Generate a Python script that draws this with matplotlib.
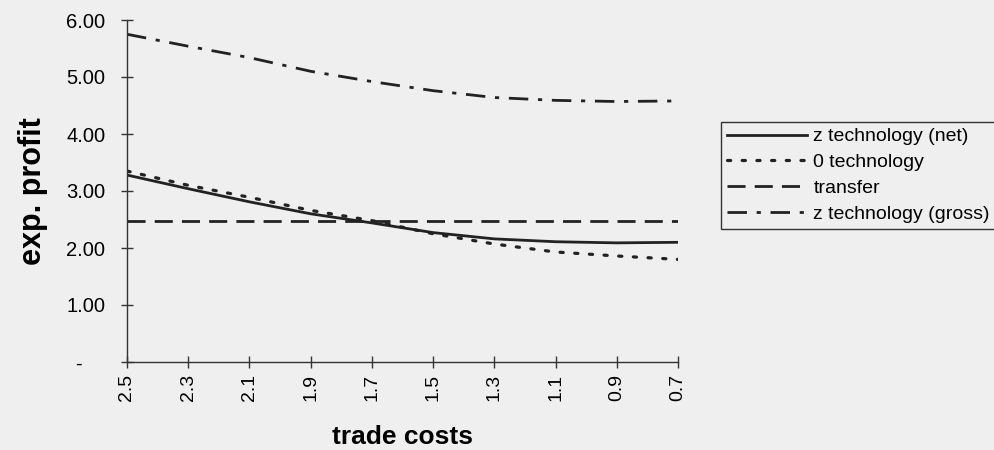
import numpy as np
import matplotlib.pyplot as plt
from matplotlib.transforms import ScaledTranslation

plt.rcParams['font.family'] = ['Liberation Sans', 'DejaVu Sans']

trade_costs = [2.5, 2.3, 2.1, 1.9, 1.7, 1.5, 1.3, 1.1, 0.9, 0.7]
z_net = [3.28, 3.04, 2.81, 2.60, 2.44, 2.27, 2.16, 2.11, 2.09, 2.10]
zero_tech = [3.35, 3.10, 2.89, 2.66, 2.48, 2.25, 2.07, 1.93, 1.86, 1.80]
transfer = [2.47] * len(trade_costs)
z_gross = [5.75, 5.54, 5.34, 5.10, 4.92, 4.76, 4.64, 4.59, 4.57, 4.58]

bg = '#efefef'
fig = plt.figure(figsize=(9.95, 4.5), dpi=100, facecolor=bg)
ax = fig.add_axes([127 / 995, 1 - 362 / 450, (678 - 127) / 995, (362 - 20) / 450])
ax.set_facecolor(bg)

ink = '#222222'
l1, = ax.plot(trade_costs, z_net, color=ink, lw=2.0, linestyle='-', label='z technology (net)')
l2, = ax.plot(trade_costs, zero_tech, color=ink, lw=2.3, linestyle=(0, (1, 3.6)),
              dash_capstyle='round', label='0 technology')
l3, = ax.plot(trade_costs, transfer, color=ink, lw=2.0, linestyle=(0, (6.5, 3.3)), label='transfer')
l4, = ax.plot(trade_costs, z_gross, color=ink, lw=2.0, linestyle=(0, (7, 3.5, 1.5, 3.5)),
              label='z technology (gross)')

ax.set_xlim(2.5, 0.7)
ax.set_ylim(0, 6)
ax.set_xticks(trade_costs)
ax.set_xticklabels([f'{v:.1f}' for v in trade_costs], rotation=90, fontsize=14)
ax.set_yticks([0, 1, 2, 3, 4, 5, 6])
ax.set_yticklabels(['-', '1.00', '2.00', '3.00', '4.00', '5.00', '6.00'], fontsize=14.5)
ax.tick_params(direction='inout', length=9, width=1, color='#333333', pad=4)
ax.tick_params(axis='y', pad=11)

# accounting-style zero dash sits further left
zero_lab = ax.get_yticklabels()[0]
zero_lab.set_transform(zero_lab.get_transform() + ScaledTranslation(-0.24, 0, fig.dpi_scale_trans))

for s in ['top', 'right']:
    ax.spines[s].set_visible(False)
for s in ['left', 'bottom']:
    ax.spines[s].set_color('#333333')
    ax.spines[s].set_linewidth(1.0)

ax.set_xlabel('trade costs', fontsize=19, fontweight='bold', labelpad=17)
ax.set_ylabel('exp. profit', fontsize=22, fontweight='bold', labelpad=13)

leg = fig.legend(handles=[l1, l2, l3, l4], loc='upper left',
                 bbox_to_anchor=(721 / 995, 1 - 122 / 450), fontsize=14,
                 handlelength=4.1, handletextpad=0.35, labelspacing=0.42,
                 borderpad=0.3, borderaxespad=0, fancybox=False, framealpha=1)
leg.get_frame().set_facecolor(bg)
leg.get_frame().set_edgecolor('#333333')
leg.get_frame().set_linewidth(1.0)

fig.savefig('out.png', dpi=100, facecolor=bg)
